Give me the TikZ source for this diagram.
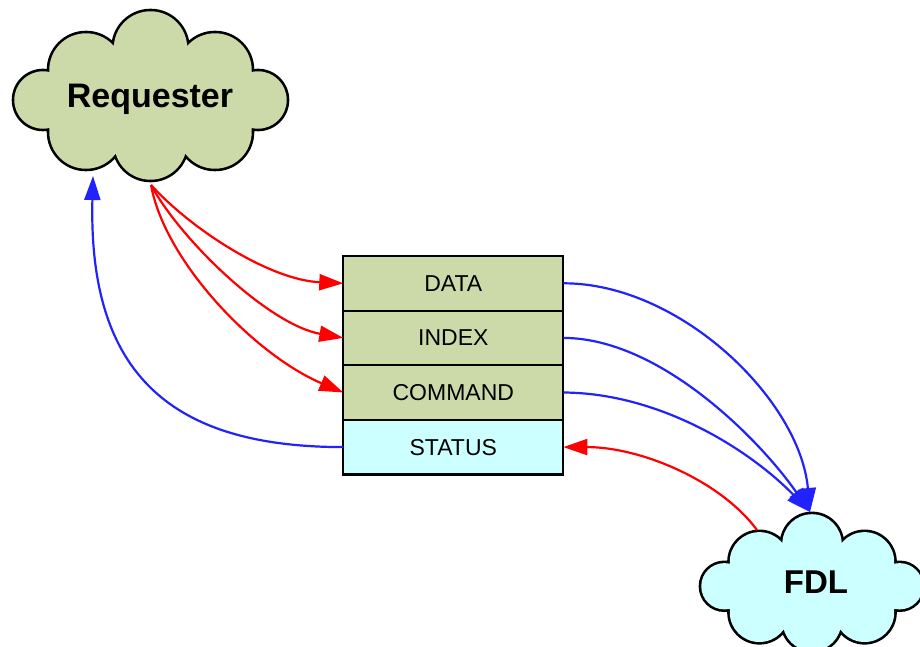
\documentclass[tikz,border=0pt]{standalone}
\usepackage{fontspec}
\setmainfont{Liberation Sans}
\usetikzlibrary{arrows.meta}
\definecolor{reqgreen}{RGB}{204,218,170}
\definecolor{statcyan}{RGB}{204,255,255}
\definecolor{arrowred}{RGB}{255,0,0}
\definecolor{arrowblue}{RGB}{34,34,255}
\newcommand\drawcloudshape[2]{%
  \fill[black] \foreach \cx/\cy/\rr in {-107.5/4/30,-64.5/-26/38,0/-48/38,64.5/-26/38,107.5/4/30,64.5/36/38,0/47.5/37.5,-64.5/36/38}{ (\cx,\cy) circle[radius=\rr+#2] };
  \fill[#1] (-107.5,4) -- (-64.5,-26) -- (0,-48) -- (64.5,-26) -- (107.5,4) -- (64.5,36) -- (0,47.5) -- (-64.5,36) -- cycle;
  \fill[#1] \foreach \cx/\cy/\rr in {-107.5/4/30,-64.5/-26/38,0/-48/38,64.5/-26/38,107.5/4/30,64.5/36/38,0/47.5/37.5,-64.5/36/38}{ (\cx,\cy) circle[radius=\rr-#2] };
}
\begin{document}
\begin{tikzpicture}[x=1pt,y=-1pt,
  regrow/.style={draw=black, line width=2.2pt, minimum width=220pt, minimum height=54.6pt, inner sep=0pt, outer sep=0pt, font=\fontsize{23}{27}\selectfont},
  cloudlabel/.style={anchor=base, inner sep=0pt, font=\fontsize{34}{40}\selectfont\bfseries},
  redarrow/.style={draw=arrowred, line width=2.2pt, -{Triangle[length=24pt,width=16pt]}},
  bluearrow/.style={draw=arrowblue, line width=2.2pt, -{Triangle[length=24pt,width=16pt]}}]
\useasboundingbox (0,0) rectangle (920,647);
\clip (0,0) rectangle (920,647);
\begin{scope}[shift={(150.5,96)}]
  \drawcloudshape{reqgreen}{1.3}
\end{scope}
\begin{scope}[shift={(812,583)},scale=0.815]
  \drawcloudshape{statcyan}{1.6}
\end{scope}
\node[cloudlabel] (req) at (150,108) {Requester};
\node[cloudlabel, font=\fontsize{33}{40}\selectfont\bfseries] (fdl) at (816,593) {FDL};
\coordinate (reqOut) at (151,185);
\coordinate (reqIn) at (93,176);
\coordinate (fdlIn) at (810,512);
\coordinate (fdlOut) at (757,530);
\node[regrow, fill=reqgreen] (data) at (453.3,283.3) {DATA};
\node[regrow, fill=reqgreen] (index) at (453.3,337.9) {INDEX};
\node[regrow, fill=reqgreen] (command) at (453.3,392.5) {COMMAND};
\node[regrow, fill=statcyan] (status) at (453.3,447.1) {STATUS};
\draw[redarrow] (reqOut) .. controls (192,230) and (270,280) .. (data.west);
\draw[redarrow] (reqOut) .. controls (182,242) and (270,325) .. (index.west);
\draw[redarrow] (reqOut) .. controls (165,262) and (255,355) .. (command.west);
\draw[bluearrow] (status.west) .. controls (173,447) and (88,376) .. (reqIn);
\draw[bluearrow] (data.east) .. controls (680,283) and (800,400) .. (fdlIn);
\draw[bluearrow] (index.east) .. controls (660,338) and (760,440) .. (fdlIn);
\draw[bluearrow] (command.east) .. controls (660,393) and (750,450) .. (fdlIn);
\draw[redarrow] (fdlOut) .. controls (720,480) and (640,447) .. (status.east);
\end{tikzpicture}
\end{document}
